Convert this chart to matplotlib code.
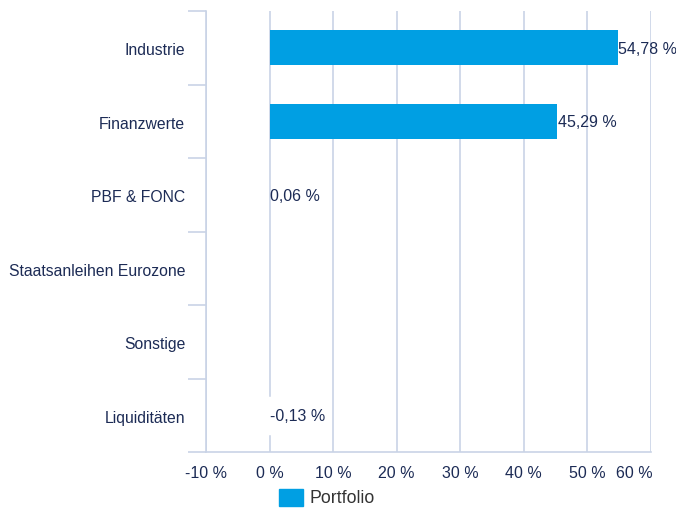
import matplotlib
matplotlib.use("Agg")
import matplotlib.pyplot as plt
import matplotlib.transforms as mtransforms
import numpy as np

categories = ["Industrie", "Finanzwerte", "PBF & FONC", "Staatsanleihen Eurozone", "Sonstige", "Liquiditäten"]
values = [54.78, 45.29, 0.06, np.nan, np.nan, -0.13]
xticks = [-10, 0, 10, 20, 30, 40, 50, 60]
xtick_labels = ["-10 %", "0 %", "10 %", "20 %", "30 %", "40 %", "50 %", "60 %"]
series_name = "Portfolio"

plt.rcParams['font.family'] = ['Liberation Sans', 'DejaVu Sans']
text_color = "#1c2b55"
grid_color = "#c9d3e6"
bar_color = "#009fe3"
fs = 11.5

fig = plt.figure(figsize=(6.76, 5.09), dpi=100)
ax = fig.add_axes([206/676, 1-452/509, (651-206)/676, (452-11)/509])

y = np.arange(len(categories))
vals = np.array(values, dtype=float)
plot_vals = np.nan_to_num(vals)
colors = [bar_color if v >= 0 else "white" for v in plot_vals]
edges = [bar_color if v >= 0 else "white" for v in plot_vals]
bars = ax.barh(y, plot_vals, height=0.47, color=colors, edgecolor=edges, linewidth=[0 if v >= 0 else 2.5 for v in plot_vals], zorder=3, label=series_name)

for yi, v in zip(y, vals):
    if np.isnan(v):
        continue
    lbl = f"{v:.2f}".replace(".", ",") + " %"
    ax.text(max(v, 0) + 0.05, yi + 0.02, lbl, va="center", ha="left", fontsize=fs, color=text_color, zorder=4)

ax.set_xlim(-10, 60)
ax.set_ylim(len(categories) - 0.5, -0.5)
ax.set_xticks(xticks)
ax.set_xticklabels(xtick_labels)
ax.set_yticks(y + 0.02)
ax.set_yticklabels(categories)
ax.set_yticks(np.arange(-0.5, len(categories)), minor=True)
ax.tick_params(axis="y", which="major", length=0, pad=15, labelsize=11.3, labelcolor=text_color)
ax.tick_params(axis="y", which="minor", length=13, width=1.2, color=grid_color)
ax.tick_params(axis="x", which="major", length=0, pad=10, labelsize=fs, labelcolor=text_color)
labels = ax.get_xticklabels()
labels[-1].set_horizontalalignment("right")
labels[-1].set_transform(labels[-1].get_transform() + mtransforms.ScaledTranslation(0.02, 0, fig.dpi_scale_trans))

ax.grid(axis="x", color=grid_color, linewidth=1.2, zorder=0)
for s in ["top", "right"]:
    ax.spines[s].set_visible(False)
ax.spines["left"].set_color(grid_color)
ax.spines["left"].set_linewidth(1.2)
ax.spines["bottom"].set_color(grid_color)
ax.spines["bottom"].set_linewidth(1.2)

leg_handle = plt.Rectangle((0, 0), 1, 1, color=bar_color)
leg = fig.legend(handles=[leg_handle], labels=[series_name], loc="center", bbox_to_anchor=(327/676, 1-498/509),
                 frameon=False, fontsize=12.8, handlelength=1.35, handleheight=1.07, handletextpad=0.4,
                 borderpad=0, borderaxespad=0)
for t in leg.get_texts():
    t.set_color("#333333")

fig.savefig("out.png", dpi=100)
